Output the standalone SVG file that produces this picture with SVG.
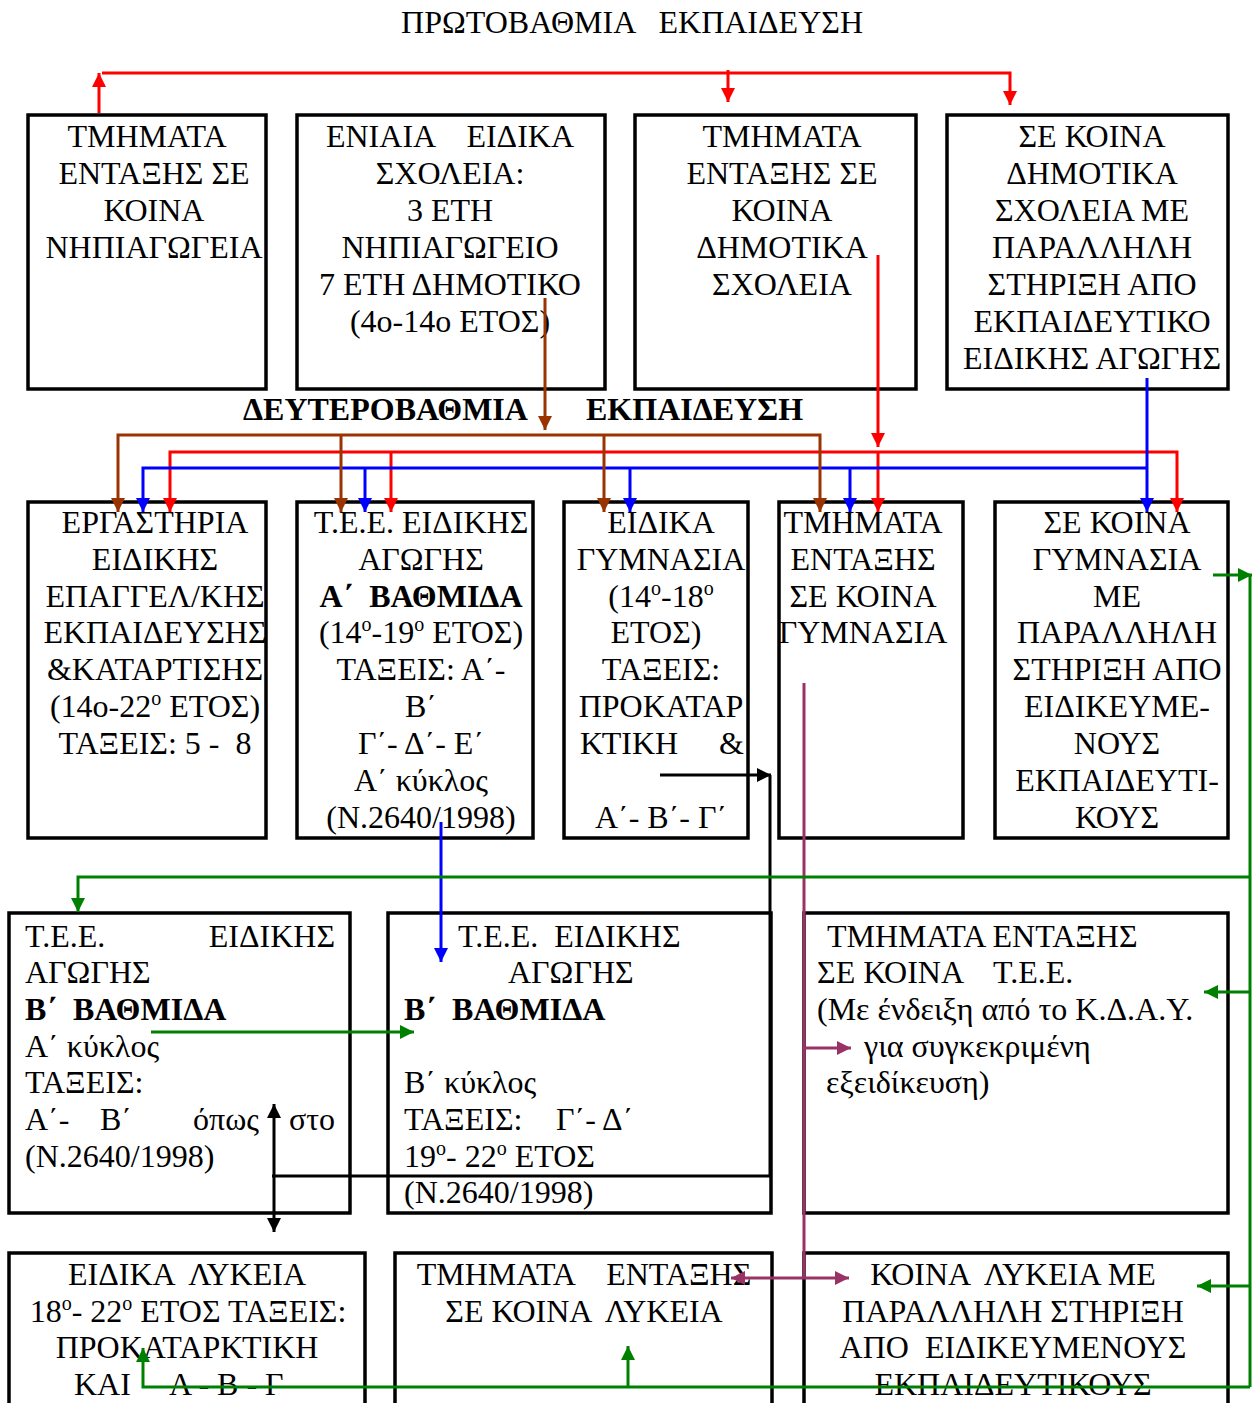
<svg xmlns="http://www.w3.org/2000/svg" width="1254" height="1403" viewBox="0 0 1254 1403">
<style>
text{font-family:"Liberation Serif","DejaVu Serif",serif;font-size:32px;fill:#000}
.c{text-anchor:middle}
.e{text-anchor:end}
.b{font-weight:bold}
.sup{font-size:20px}
.box{fill:#fff;stroke:#000;stroke-width:3.5}
.ln{fill:none;stroke-width:3}
.red{stroke:#ff0000}
.blue{stroke:#0000ff}
.brown{stroke:#993300}
.green{stroke:#008000}
.blk{stroke:#000}
.pur{stroke:#993366}
</style>
<defs>
<marker id="aR" markerUnits="userSpaceOnUse" markerWidth="14" markerHeight="14" refX="14" refY="7" orient="auto-start-reverse"><path d="M0,0 L14,7 L0,14 z" fill="#ff0000"/></marker>
<marker id="aB" markerUnits="userSpaceOnUse" markerWidth="14" markerHeight="14" refX="14" refY="7" orient="auto-start-reverse"><path d="M0,0 L14,7 L0,14 z" fill="#0000ff"/></marker>
<marker id="aBr" markerUnits="userSpaceOnUse" markerWidth="14" markerHeight="14" refX="14" refY="7" orient="auto-start-reverse"><path d="M0,0 L14,7 L0,14 z" fill="#993300"/></marker>
<marker id="aG" markerUnits="userSpaceOnUse" markerWidth="14" markerHeight="14" refX="14" refY="7" orient="auto-start-reverse"><path d="M0,0 L14,7 L0,14 z" fill="#008000"/></marker>
<marker id="aK" markerUnits="userSpaceOnUse" markerWidth="14" markerHeight="14" refX="14" refY="7" orient="auto-start-reverse"><path d="M0,0 L14,7 L0,14 z" fill="#000"/></marker>
<marker id="aP" markerUnits="userSpaceOnUse" markerWidth="14" markerHeight="14" refX="14" refY="7" orient="auto-start-reverse"><path d="M0,0 L14,7 L0,14 z" fill="#993366"/></marker>
</defs>
<rect width="1254" height="1403" fill="#fff"/>

<g id="titles">
<text class="c" x="632" y="33" xml:space="preserve">ΠΡΩΤΟΒΑΘΜΙΑ   ΕΚΠΑΙΔΕΥΣΗ</text>
<text class="b" x="243" y="420">ΔΕΥΤΕΡΟΒΑΘΜΙΑ</text>
<text class="b" x="586" y="420">ΕΚΠΑΙΔΕΥΣΗ</text>
</g>

<g id="b1">
<rect class="box" x="28" y="115" width="238" height="274"/>
<text class="c" x="147" y="147">ΤΜΗΜΑΤΑ</text>
<text class="c" x="154" y="184">ΕΝΤΑΞΗΣ ΣΕ</text>
<text class="c" x="154" y="221">ΚΟΙΝΑ</text>
<text class="c" x="154" y="258">ΝΗΠΙΑΓΩΓΕΙΑ</text>
</g>
<g id="b2">
<rect class="box" x="297" y="115" width="308" height="274"/>
<text class="c" x="450" y="147" xml:space="preserve">ΕΝΙΑΙΑ    ΕΙΔΙΚΑ</text>
<text class="c" x="450" y="184">ΣΧΟΛΕΙΑ:</text>
<text class="c" x="450" y="221">3 ΕΤΗ</text>
<text class="c" x="450" y="258">ΝΗΠΙΑΓΩΓΕΙΟ</text>
<text class="c" x="450" y="295">7 ΕΤΗ ΔΗΜΟΤΙΚΟ</text>
<text class="c" x="450" y="332">(4ο-14ο ΕΤΟΣ)</text>
</g>
<g id="b3">
<rect class="box" x="635" y="115" width="281" height="274"/>
<text class="c" x="782" y="147">ΤΜΗΜΑΤΑ</text>
<text class="c" x="782" y="184">ΕΝΤΑΞΗΣ ΣΕ</text>
<text class="c" x="782" y="221">ΚΟΙΝΑ</text>
<text class="c" x="782" y="258">ΔΗΜΟΤΙΚΑ</text>
<text class="c" x="782" y="295">ΣΧΟΛΕΙΑ</text>
</g>
<g id="b4">
<rect class="box" x="947" y="115" width="281" height="274"/>
<text class="c" x="1092" y="147">ΣΕ ΚΟΙΝΑ</text>
<text class="c" x="1092" y="184">ΔΗΜΟΤΙΚΑ</text>
<text class="c" x="1092" y="221">ΣΧΟΛΕΙΑ ΜΕ</text>
<text class="c" x="1092" y="258">ΠΑΡΑΛΛΗΛΗ</text>
<text class="c" x="1092" y="295">ΣΤΗΡΙΞΗ ΑΠΟ</text>
<text class="c" x="1092" y="332">ΕΚΠΑΙΔΕΥΤΙΚΟ</text>
<text class="c" x="1092" y="369">ΕΙΔΙΚΗΣ ΑΓΩΓΗΣ</text>
</g>

<g id="c1">
<rect class="box" x="28" y="502" width="238" height="336"/>
<text class="c" x="155" y="533">ΕΡΓΑΣΤΗΡΙΑ</text>
<text class="c" x="155" y="570">ΕΙΔΙΚΗΣ</text>
<text class="c" x="155" y="607">ΕΠΑΓΓΕΛ/ΚΗΣ</text>
<text class="c" x="155" y="643">ΕΚΠΑΙΔΕΥΣΗΣ</text>
<text class="c" x="155" y="680">&amp;ΚΑΤΑΡΤΙΣΗΣ</text>
<text class="c" x="155" y="717">(14ο-22<tspan class="sup" dy="-12">o</tspan><tspan dy="12"> ΕΤΟΣ)</tspan></text>
<text class="c" x="155" y="754" xml:space="preserve">ΤΑΞΕΙΣ: 5 -  8</text>
</g>
<g id="c2">
<rect class="box" x="297" y="502" width="236" height="336"/>
<text class="c" x="421" y="533">Τ.Ε.Ε. ΕΙΔΙΚΗΣ</text>
<text class="c" x="421" y="570">ΑΓΩΓΗΣ</text>
<text class="c b" x="421" y="607" xml:space="preserve">Α΄  ΒΑΘΜΙΔΑ</text>
<text class="c" x="421" y="643">(14<tspan class="sup" dy="-12">o</tspan><tspan dy="12">-19</tspan><tspan class="sup" dy="-12">o</tspan><tspan dy="12"> ΕΤΟΣ)</tspan></text>
<text class="c" x="421" y="680">ΤΑΞΕΙΣ: Α΄-</text>
<text class="c" x="421" y="717">Β΄</text>
<text class="c" x="421" y="754">Γ΄- Δ΄- Ε΄</text>
<text class="c" x="421" y="791">Α΄ κύκλος</text>
<text class="c" x="421" y="828">(Ν.2640/1998)</text>
</g>
<g id="c3">
<rect class="box" x="564" y="502" width="184" height="336"/>
<text class="c" x="661" y="533">ΕΙΔΙΚΑ</text>
<text class="c" x="661" y="570">ΓΥΜΝΑΣΙΑ</text>
<text class="c" x="661" y="607">(14<tspan class="sup" dy="-12">o</tspan><tspan dy="12">-18</tspan><tspan class="sup" dy="-12">o</tspan></text>
<text class="c" x="656" y="643">ΕΤΟΣ)</text>
<text class="c" x="661" y="680">ΤΑΞΕΙΣ:</text>
<text class="c" x="661" y="717">ΠΡΟΚΑΤΑΡ</text>
<text x="580" y="754">ΚΤΙΚΗ</text>
<text class="e" x="744" y="754">&amp;</text>
<text class="c" x="661" y="828">Α΄- Β΄- Γ΄</text>
</g>
<g id="c4">
<rect class="box" x="779" y="502" width="184" height="336"/>
<text class="c" x="863" y="533">ΤΜΗΜΑΤΑ</text>
<text class="c" x="863" y="570">ΕΝΤΑΞΗΣ</text>
<text class="c" x="863" y="607">ΣΕ ΚΟΙΝΑ</text>
<text class="c" x="863" y="643">ΓΥΜΝΑΣΙΑ</text>
</g>
<g id="c5">
<rect class="box" x="995" y="502" width="233" height="336"/>
<text class="c" x="1117" y="533">ΣΕ ΚΟΙΝΑ</text>
<text class="c" x="1117" y="570">ΓΥΜΝΑΣΙΑ</text>
<text class="c" x="1117" y="607">ΜΕ</text>
<text class="c" x="1117" y="643">ΠΑΡΑΛΛΗΛΗ</text>
<text class="c" x="1117" y="680">ΣΤΗΡΙΞΗ ΑΠΟ</text>
<text class="c" x="1117" y="717">ΕΙΔΙΚΕΥΜΕ-</text>
<text class="c" x="1117" y="754">ΝΟΥΣ</text>
<text class="c" x="1117" y="791">ΕΚΠΑΙΔΕΥΤΙ-</text>
<text class="c" x="1117" y="828">ΚΟΥΣ</text>
</g>

<g id="d1">
<rect class="box" x="9" y="913" width="341" height="300"/>
<text x="25" y="947">Τ.Ε.Ε.</text>
<text class="e" x="335" y="947">ΕΙΔΙΚΗΣ</text>
<text x="25" y="983">ΑΓΩΓΗΣ</text>
<text class="b" x="25" y="1020" xml:space="preserve">Β΄  ΒΑΘΜΙΔΑ</text>
<text x="25" y="1057">Α΄ κύκλος</text>
<text x="25" y="1093">ΤΑΞΕΙΣ:</text>
<text x="25" y="1130">Α΄-</text>
<text x="100" y="1130">Β΄</text>
<text x="193" y="1130">όπως</text>
<text class="e" x="335" y="1130">στο</text>
<text x="25" y="1167">(Ν.2640/1998)</text>
</g>
<g id="d2">
<rect class="box" x="388" y="913" width="383" height="300"/>
<text x="458" y="947" xml:space="preserve">Τ.Ε.Ε.  ΕΙΔΙΚΗΣ</text>
<text x="508" y="983">ΑΓΩΓΗΣ</text>
<text class="b" x="404" y="1020" xml:space="preserve">Β΄  ΒΑΘΜΙΔΑ</text>
<text x="404" y="1093">Β΄ κύκλος</text>
<text x="404" y="1130">ΤΑΞΕΙΣ:</text>
<text x="556" y="1130">Γ΄- Δ΄</text>
<text x="404" y="1167">19<tspan class="sup" dy="-12">o</tspan><tspan dy="12">- 22</tspan><tspan class="sup" dy="-12">o</tspan><tspan dy="12"> ΕΤΟΣ</tspan></text>
<text x="404" y="1203">(Ν.2640/1998)</text>
</g>
<g id="d3">
<rect class="box" x="804" y="913" width="424" height="300"/>
<text x="827" y="947">ΤΜΗΜΑΤΑ ΕΝΤΑΞΗΣ</text>
<text x="817" y="983">ΣΕ ΚΟΙΝΑ</text>
<text x="993" y="983">Τ.Ε.Ε.</text>
<text x="817" y="1020">(Με ένδειξη από το Κ.Δ.Α.Υ.</text>
<text x="864" y="1057">για συγκεκριμένη</text>
<text x="826" y="1093">εξειδίκευση)</text>
</g>

<g id="e1">
<rect class="box" x="9" y="1253" width="356" height="170"/>
<text class="c" x="187" y="1285" xml:space="preserve">ΕΙΔΙΚΑ  ΛΥΚΕΙΑ</text>
<text class="c" x="188" y="1322">18<tspan class="sup" dy="-12">o</tspan><tspan dy="12">- 22</tspan><tspan class="sup" dy="-12">o</tspan><tspan dy="12"> ΕΤΟΣ ΤΑΞΕΙΣ:</tspan></text>
<text class="c" x="187" y="1358">ΠΡΟΚΑΤΑΡΚΤΙΚΗ</text>
<text x="74" y="1395" xml:space="preserve">ΚΑΙ     Α - Β - Γ</text>
</g>
<g id="e2">
<rect class="box" x="395" y="1253" width="377" height="170"/>
<text class="c" x="584" y="1285" xml:space="preserve">ΤΜΗΜΑΤΑ    ΕΝΤΑΞΗΣ</text>
<text class="c" x="584" y="1322" xml:space="preserve">ΣΕ ΚΟΙΝΑ  ΛΥΚΕΙΑ</text>
</g>
<g id="e3">
<rect class="box" x="804" y="1253" width="424" height="170"/>
<text class="c" x="1013" y="1285" xml:space="preserve">ΚΟΙΝΑ  ΛΥΚΕΙΑ ΜΕ</text>
<text class="c" x="1013" y="1322">ΠΑΡΑΛΛΗΛΗ ΣΤΗΡΙΞΗ</text>
<text class="c" x="1013" y="1358" xml:space="preserve">ΑΠΟ  ΕΙΔΙΚΕΥΜΕΝΟΥΣ</text>
<text class="c" x="1013" y="1395">ΕΚΠΑΙΔΕΥΤΙΚΟΥΣ</text>
</g>

<g id="connectors">
<path class="ln red" d="M99,113 V73" marker-end="url(#aR)"/>
<path class="ln red" d="M102,73 H1010 V105" marker-end="url(#aR)"/>
<path class="ln red" d="M728,70 V102" marker-end="url(#aR)"/>
<path class="ln red" d="M878,255 V447" marker-end="url(#aR)"/>
<path class="ln red" d="M170,512 V452 H1177 V512" marker-start="url(#aR)" marker-end="url(#aR)"/>
<path class="ln red" d="M391,452 V512" marker-end="url(#aR)"/>
<path class="ln red" d="M878,452 V512" marker-end="url(#aR)"/>
<path class="ln blue" d="M143,512 V468 H1147" marker-start="url(#aB)"/>
<path class="ln blue" d="M1147,378 V512" marker-end="url(#aB)"/>
<path class="ln blue" d="M365,468 V512" marker-end="url(#aB)"/>
<path class="ln blue" d="M630,468 V512" marker-end="url(#aB)"/>
<path class="ln blue" d="M850,468 V512" marker-end="url(#aB)"/>
<path class="ln blue" d="M441,822 V962" marker-end="url(#aB)"/>
<path class="ln brown" d="M545,298 V430" marker-end="url(#aBr)"/>
<path class="ln brown" d="M118,512 V435 H820 V512" marker-start="url(#aBr)" marker-end="url(#aBr)"/>
<path class="ln brown" d="M341,435 V512" marker-end="url(#aBr)"/>
<path class="ln brown" d="M604,435 V512" marker-end="url(#aBr)"/>
<path class="ln blk" d="M660,775 H771" marker-end="url(#aK)"/>
<path class="ln blk" d="M770,775 V1176 H272"/>
<path class="ln blk" d="M274,1176 V1104" marker-end="url(#aK)"/>
<path class="ln blk" d="M274,1176 V1232" marker-end="url(#aK)"/>
<path class="ln pur" d="M804,683 V1278"/>
<path class="ln pur" d="M804,1048 H851" marker-end="url(#aP)"/>
<path class="ln pur" d="M731,1278 H849" marker-start="url(#aP)" marker-end="url(#aP)"/>
<path class="ln green" d="M1213,575 H1252" marker-end="url(#aG)"/>
<path class="ln green" d="M1250,575 V1387"/>
<path class="ln green" d="M1250,877 H78 V912" marker-end="url(#aG)"/>
<path class="ln green" d="M1250,992 H1204" marker-end="url(#aG)"/>
<path class="ln green" d="M1250,1286 H1197" marker-end="url(#aG)"/>
<path class="ln green" d="M1250,1387 H143 V1348" marker-end="url(#aG)"/>
<path class="ln green" d="M628,1387 V1346" marker-end="url(#aG)"/>
<path class="ln green" d="M151,1032 H414" marker-end="url(#aG)"/>
</g>
</svg>
